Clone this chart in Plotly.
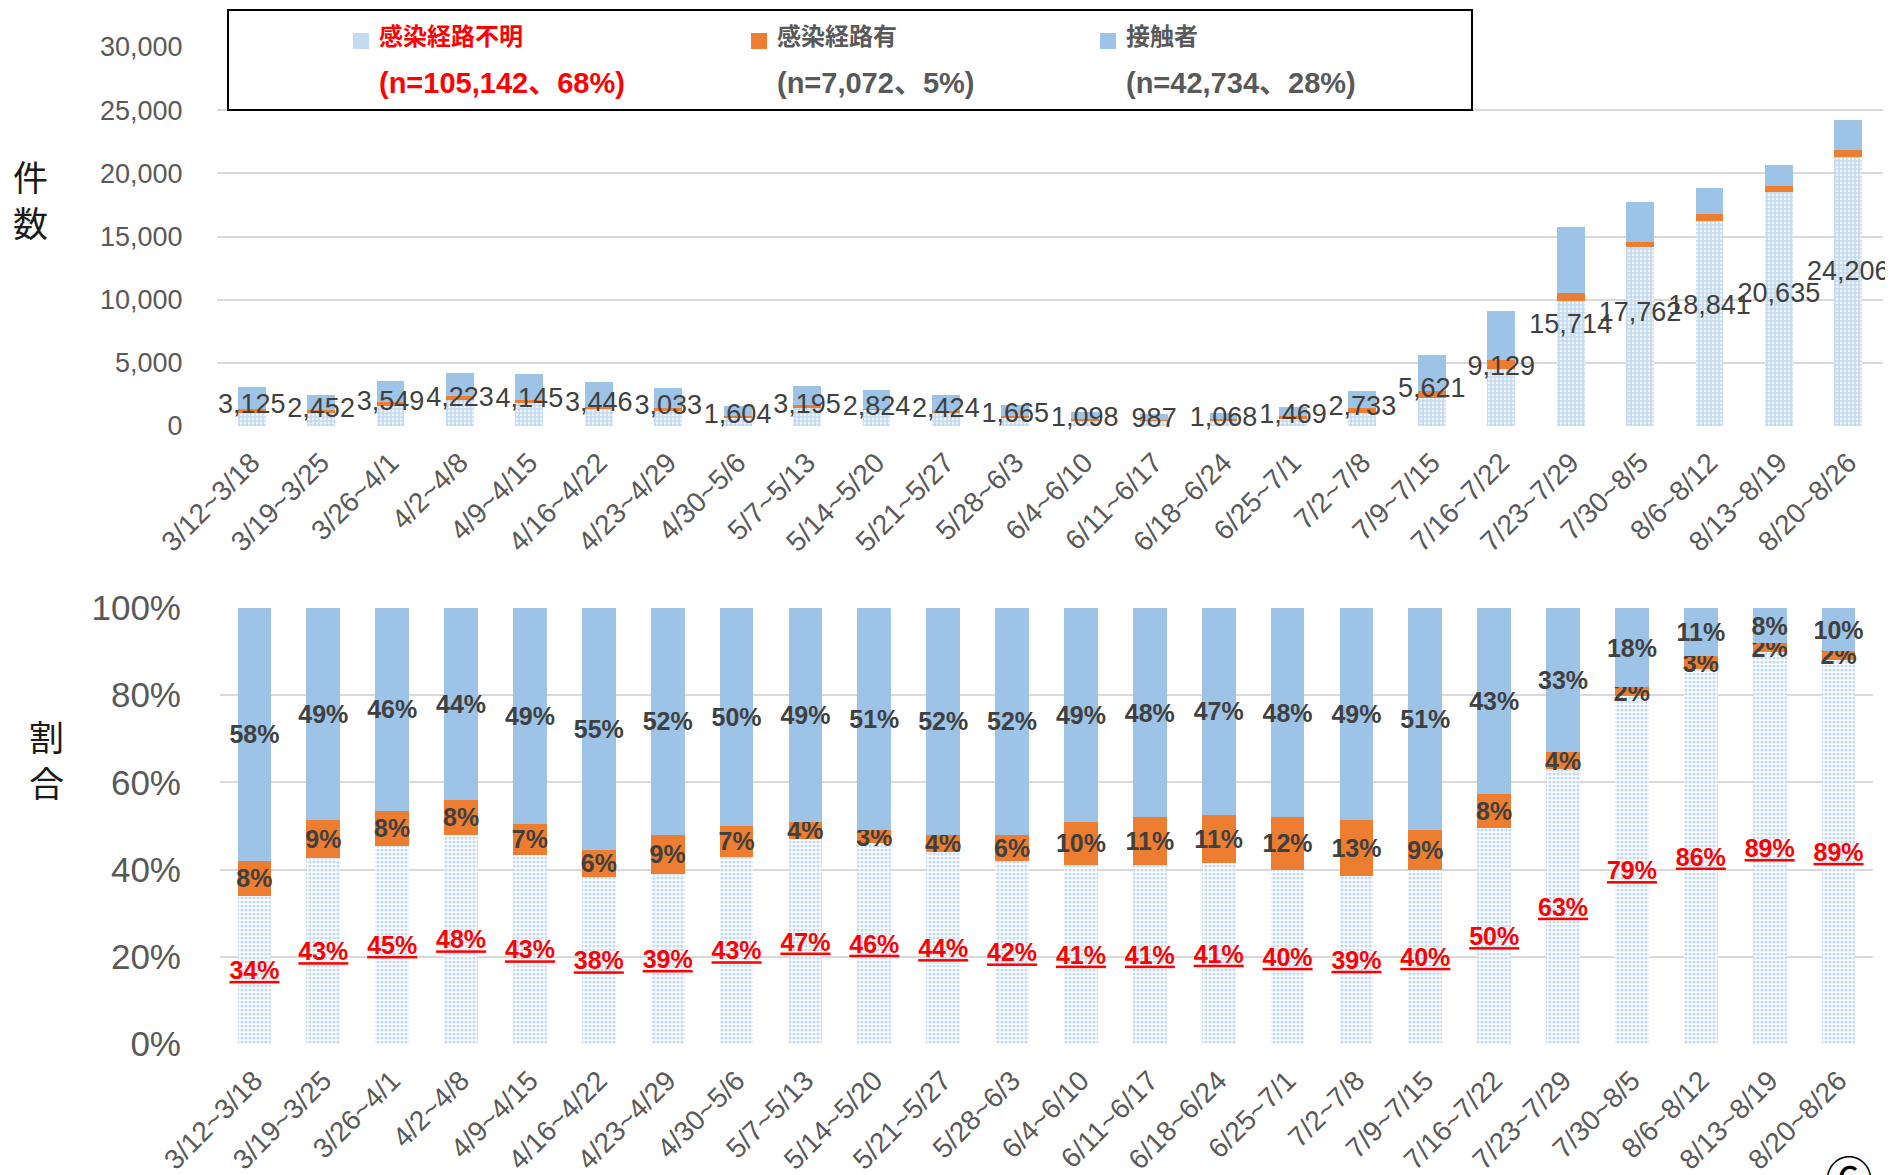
import plotly.graph_objects as go

categories = ["3/12~3/18", "3/19~3/25", "3/26~4/1", "4/2~4/8", "4/9~4/15", "4/16~4/22",
              "4/23~4/29", "4/30~5/6", "5/7~5/13", "5/14~5/20", "5/21~5/27", "5/28~6/3",
              "6/4~6/10", "6/11~6/17", "6/18~6/24", "6/25~7/1", "7/2~7/8", "7/9~7/15",
              "7/16~7/22", "7/23~7/29", "7/30~8/5", "8/6~8/12", "8/13~8/19", "8/20~8/26"]
totals = [3125, 2452, 3549, 4223, 4145, 3446, 3033, 1604, 3195, 2824, 2424, 1665,
          1098, 987, 1068, 1469, 2733, 5621, 9129, 15714, 17762, 18841, 20635, 24206]
pct_unknown = [34, 43, 45, 48, 43, 38, 39, 43, 47, 46, 44, 42, 41, 41, 41, 40, 39, 40, 50, 63, 79, 86, 89, 89]
pct_route = [8, 9, 8, 8, 7, 6, 9, 7, 4, 3, 4, 6, 10, 11, 11, 12, 13, 9, 8, 4, 2, 3, 2, 2]
pct_contact = [58, 49, 46, 44, 49, 55, 52, 50, 49, 51, 52, 52, 49, 48, 47, 48, 49, 51, 43, 33, 18, 11, 8, 10]

series_names = ["感染経路不明", "感染経路有", "接触者"]
series_notes = ["(n=105,142、68%)", "(n=7,072、5%)", "(n=42,734、28%)"]

FONT = "Liberation Sans, Noto Sans CJK JP, sans-serif"
BLUE = "#9DC3E6"
DOT = "#86B4E0"
ORANGE = "#ED7D31"
GRID = "#D9D9D9"
TICK = "#595959"
LABEL = "#404040"

W, H = 1893, 1175
OFF = 8  # page body margin

def px_x(p):
    return (p - OFF) / W

def px_y(p):
    return (H - (p - OFF)) / H

# normalized shares (so each 100% bar sums to 100)
sums = [u + r + c for u, r, c in zip(pct_unknown, pct_route, pct_contact)]
share_u = [u / s * 100 for u, s in zip(pct_unknown, sums)]
share_r = [r / s * 100 for r, s in zip(pct_route, sums)]
share_c = [c / s * 100 for c, s in zip(pct_contact, sums)]
cnt_u = [t * v / 100 for t, v in zip(totals, share_u)]
cnt_r = [t * v / 100 for t, v in zip(totals, share_r)]
cnt_c = [t * v / 100 for t, v in zip(totals, share_c)]

pattern_top = dict(shape=".", fgcolor=DOT, bgcolor="white", size=4, solidity=0.75)
pattern_bot = dict(shape=".", fgcolor=DOT, bgcolor="white", size=4, solidity=0.5)

fig = go.Figure()

# ---- top chart (counts)
fig.add_trace(go.Bar(x=categories, y=cnt_u, name=series_names[0], width=0.40,
                     marker=dict(color="white", pattern=pattern_top, line=dict(width=0)),
                     xaxis="x", yaxis="y", showlegend=False))
fig.add_trace(go.Bar(x=categories, y=cnt_r, name=series_names[1], width=0.40,
                     marker=dict(color=ORANGE, line=dict(width=0)),
                     xaxis="x", yaxis="y", showlegend=False))
fig.add_trace(go.Bar(x=categories, y=cnt_c, name=series_names[2], width=0.40,
                     marker=dict(color=BLUE, line=dict(width=0)),
                     xaxis="x", yaxis="y", showlegend=False))
fig.add_trace(go.Scatter(x=categories, y=[t / 2 for t in totals], mode="text",
                         text=[f"{t:,}" for t in totals], textposition="middle center",
                         textfont=dict(family=FONT, size=27, color=LABEL),
                         showlegend=False, cliponaxis=False, hoverinfo="skip",
                         xaxis="x", yaxis="y"))

# ---- bottom chart (share)
common = dict(width=0.49, textposition="inside", insidetextanchor="middle", textangle=0,
              constraintext="none", xaxis="x2", yaxis="y2", showlegend=False)
fig.add_trace(go.Bar(x=categories, y=share_u, name=series_names[0],
                     text=[f"<u>{v}%</u>" for v in pct_unknown],
                     marker=dict(color="white", pattern=pattern_bot, line=dict(width=0)),
                     textfont=dict(family=FONT, size=25, color="#FF0000", weight="bold"),
                     **common))
fig.add_trace(go.Bar(x=categories, y=share_r, name=series_names[1],
                     text=[f"{v}%" for v in pct_route],
                     marker=dict(color=ORANGE, line=dict(width=0)),
                     textfont=dict(family=FONT, size=25, color=LABEL, weight="bold"),
                     **common))
fig.add_trace(go.Bar(x=categories, y=share_c, name=series_names[2],
                     text=[f"{v}%" for v in pct_contact],
                     marker=dict(color=BLUE, line=dict(width=0)),
                     textfont=dict(family=FONT, size=25, color=LABEL, weight="bold"),
                     **common))

n_cat = len(categories)
xaxis_common = dict(type="category", range=[-0.5, n_cat - 0.5], tickangle=-45,
                    showgrid=False, zeroline=False, showline=False,
                    ticks="outside", ticklen=8, tickcolor="rgba(0,0,0,0)",
                    tickfont=dict(family=FONT, size=28, color=TICK), automargin=False)

shapes = [dict(type="rect", xref="paper", yref="paper",
               x0=px_x(228), x1=px_x(1472), y0=px_y(110), y1=px_y(10),
               line=dict(color="black", width=2), fillcolor="white", layer="above")]

# legend swatches
swatch_x = [361, 759, 1108]
swatch_fill = ["#C3DBF1", ORANGE, BLUE]
for sx, sf in zip(swatch_x, swatch_fill):
    shapes.append(dict(type="rect", xref="paper", yref="paper",
                       x0=px_x(sx - 8), x1=px_x(sx + 8), y0=px_y(49), y1=px_y(33),
                       line=dict(width=0), fillcolor=sf, layer="above"))

fig.update_layout(
    width=W, height=H, margin=dict(l=0, r=0, t=0, b=0),
    paper_bgcolor="white", plot_bgcolor="white",
    barmode="stack", font=dict(family=FONT), showlegend=False,
    xaxis=dict(domain=[px_x(217), px_x(1883)], anchor="y", **xaxis_common),
    yaxis=dict(domain=[px_y(426), px_y(47)], range=[0, 30000], dtick=5000, tickformat=",",
               showgrid=True, gridcolor=GRID, gridwidth=2, zeroline=False,
               ticks="outside", ticklen=28, tickcolor="rgba(0,0,0,0)",
               tickfont=dict(family=FONT, size=27, color=TICK), automargin=False),
    xaxis2=dict(domain=[px_x(220), px_x(1873)], anchor="y2", **xaxis_common),
    yaxis2=dict(domain=[px_y(1044), px_y(608)], range=[0, 100], dtick=20, ticksuffix="%",
                showgrid=True, gridcolor=GRID, gridwidth=2, zeroline=False,
                ticks="outside", ticklen=28, tickcolor="rgba(0,0,0,0)",
                tickfont=dict(family=FONT, size=35, color=TICK), automargin=False),
    shapes=shapes,
)

text_x = [377, 775, 1124]
text_colors = ["#FF0000", TICK, TICK]
for tx, name, note, col in zip(text_x, series_names, series_notes, text_colors):
    fig.add_annotation(x=px_x(tx), y=px_y(37), xref="paper", yref="paper",
                       xanchor="left", yanchor="middle", showarrow=False, text=name,
                       font=dict(family=FONT, size=24, color=col, weight="bold"))
    fig.add_annotation(x=px_x(tx), y=px_y(83), xref="paper", yref="paper",
                       xanchor="left", yanchor="middle", showarrow=False, text=note,
                       font=dict(family=FONT, size=29, color=col, weight="bold"))

fig.add_annotation(x=px_x(30), y=px_y(201), xref="paper", yref="paper", showarrow=False,
                   xanchor="center", yanchor="middle",
                   text="件<br>数", font=dict(family=FONT, size=35, color="#1a1a1a"))
fig.add_annotation(x=px_x(46), y=px_y(761), xref="paper", yref="paper", showarrow=False,
                   xanchor="center", yanchor="middle",
                   text="割<br>合", font=dict(family=FONT, size=35, color="#1a1a1a"))
fig.add_annotation(x=px_x(1849), y=px_y(1180), xref="paper", yref="paper", showarrow=False,
                   xanchor="center", yanchor="middle",
                   text="⑥", font=dict(family=FONT, size=48, color="black"))

fig.write_html("out.html")
